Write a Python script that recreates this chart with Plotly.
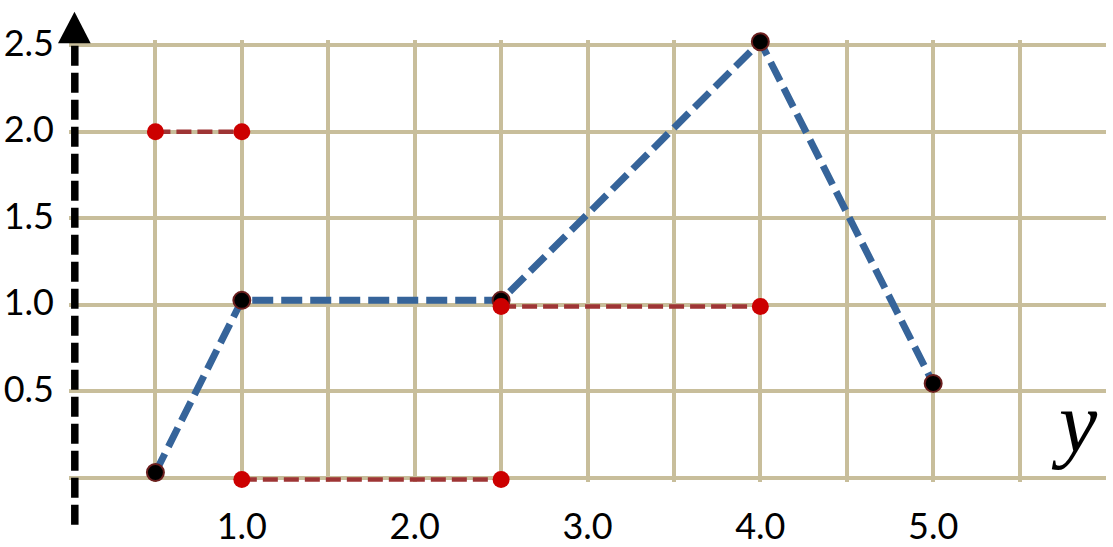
import plotly.graph_objects as go

# blue dashed path (black dots)
path_x = [0.5, 1.0, 2.5, 4.0, 5.0]
path_y = [0.03, 1.025, 1.025, 2.52, 0.545]

# red dashed segments
seg_top_x = [0.5, 1.0]
seg_top_y = [2.0, 2.0]
seg_mid_x = [2.5, 4.0]
seg_mid_y = [0.99, 0.99]
seg_low_x = [1.0, 2.5]
seg_low_y = [-0.01, -0.01]

x_ticks = [0.5, 1.0, 1.5, 2.0, 2.5, 3.0, 3.5, 4.0, 4.5, 5.0, 5.5]
x_labels = ["", "1.0", "", "2.0", "", "3.0", "", "4.0", "", "5.0", ""]
y_ticks = [0.0, 0.5, 1.0, 1.5, 2.0, 2.5]
y_labels = ["", "0.5", "1.0", "1.5", "2.0", "2.5"]

GRID = "#C8BE9B"
BLUE = "#36649A"
RED_LINE = "#9E3535"
RED_DOT = "#CC0000"

fig = go.Figure()

fig.add_trace(go.Scatter(
    x=path_x, y=path_y, mode="lines+markers",
    line=dict(color=BLUE, width=7, dash="21px,8px"),
    marker=dict(color="black", size=17, line=dict(color="#6B1F1F", width=2)),
    cliponaxis=False, showlegend=False, hoverinfo="skip",
))

for sx, sy in [(seg_top_x, seg_top_y), (seg_mid_x, seg_mid_y), (seg_low_x, seg_low_y)]:
    fig.add_trace(go.Scatter(
        x=sx, y=sy, mode="lines+markers",
        line=dict(color=RED_LINE, width=4.5, dash="15px,6px"),
        marker=dict(color=RED_DOT, size=17),
        cliponaxis=False, showlegend=False, hoverinfo="skip",
    ))

# dashed vertical axis with arrow head (paper coords)
fig.add_shape(type="line", xref="paper", yref="paper",
              x0=0.0056, x1=0.0056, y0=-0.097, y1=1.02,
              line=dict(color="black", width=7.5, dash="20px,7px"))
fig.add_shape(type="path", xref="paper", yref="paper",
              path="M -0.0106 0.9925 L 0.0209 0.9925 L 0.0053 1.064 Z",
              fillcolor="black", line=dict(color="black", width=0))

fig.add_annotation(x=5.82, y=0.32, xref="x", yref="y", text="<i>y</i>",
                   showarrow=False, xanchor="center", yanchor="middle",
                   font=dict(family="Liberation Serif", size=86, color="black"))

fig.update_xaxes(
    range=[0, 6.0], tickvals=x_ticks, ticktext=x_labels,
    showgrid=True, gridcolor=GRID, gridwidth=4, zeroline=False,
    showline=False, ticks="", ticklabelstandoff=20, automargin=False,
    tickfont=dict(family="Lato", size=36, color="black"),
)
fig.update_yaxes(
    range=[-0.025, 2.53], tickvals=y_ticks, ticktext=y_labels,
    showgrid=True, gridcolor=GRID, gridwidth=4, zeroline=False,
    showline=False, ticks="", ticklabelstandoff=14, ticklabelshift=-2,
    automargin=False,
    tickfont=dict(family="Lato", size=36, color="black"),
)

fig.update_layout(
    width=1113, height=547,
    margin=dict(l=69, r=7, t=40, b=65),
    paper_bgcolor="white", plot_bgcolor="white",
    showlegend=False,
)

# drop the default page margin so the figure sits at the window's corner
fig.write_html("out.html", config={"displayModeBar": False},
               post_script="document.body.style.margin='0';")
